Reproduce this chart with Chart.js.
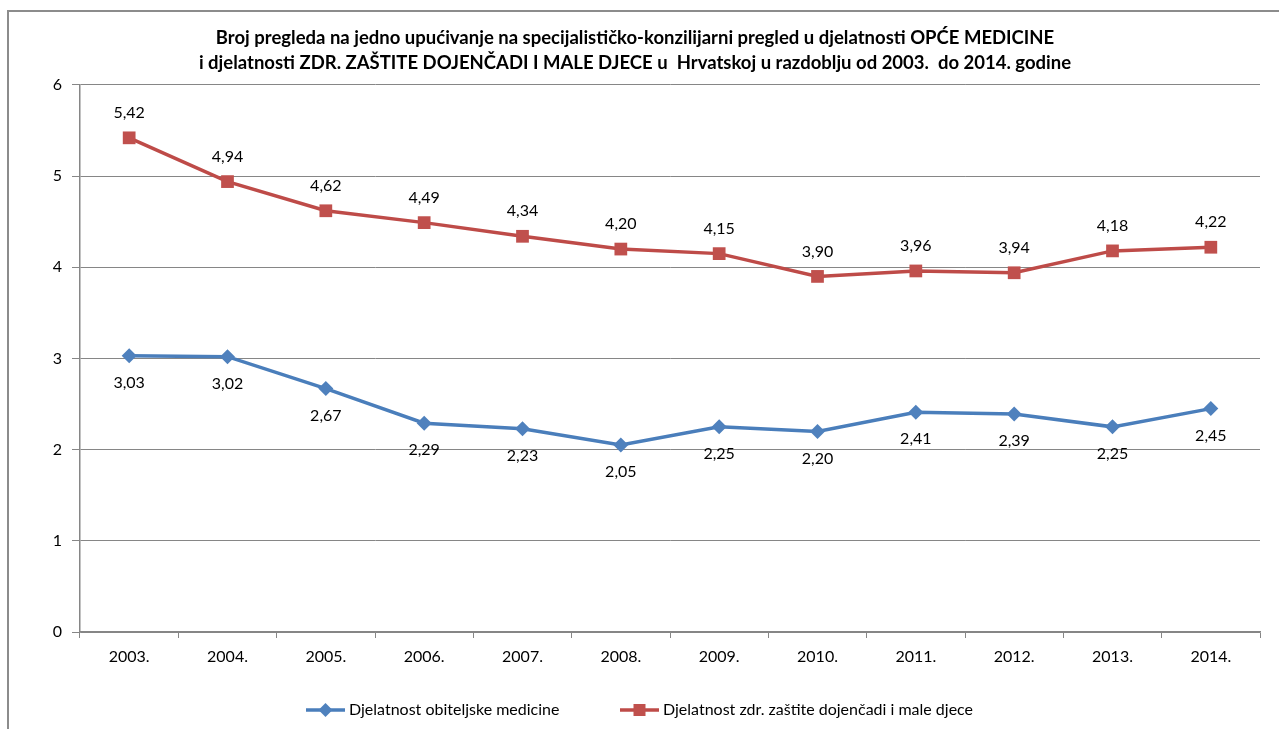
<!DOCTYPE html>
<html>
<head>
<meta charset="utf-8">
<script src="https://cdn.jsdelivr.net/npm/chart.js@4.4.0/dist/chart.umd.min.js"></script>
<style>
  html, body { margin:0; padding:0; background:#fff; overflow:hidden; }
  #frame { position:absolute; left:7px; top:10px; width:1300px; height:800px; border-left:2px solid #8c8c8c; border-top:2px solid #8c8c8c; }
  #wrap { position:absolute; left:0; top:0; width:1279px; height:729px; }
</style>
</head>
<body>
<div id="frame"></div>
<div id="wrap"><canvas id="c" width="1279" height="729"></canvas></div>
<script>
const categories = ['2003.','2004.','2005.','2006.','2007.','2008.','2009.','2010.','2011.','2012.','2013.','2014.'];
const obiteljska = [3.03, 3.02, 2.67, 2.29, 2.23, 2.05, 2.25, 2.20, 2.41, 2.39, 2.25, 2.45];
const dojencad = [5.42, 4.94, 4.62, 4.49, 4.34, 4.20, 4.15, 3.90, 3.96, 3.94, 4.18, 4.22];
const yTicks = [0, 1, 2, 3, 4, 5, 6];
const seriesNames = ['Djelatnost obiteljske medicine', 'Djelatnost zdr. zaštite dojenčadi i male djece'];
const titleLines = ['Broj pregleda na jedno upućivanje na specijalističko-konzilijarni pregled u djelatnosti OPĆE MEDICINE',
                    'i djelatnosti ZDR. ZAŠTITE DOJENČADI I MALE DJECE u  Hrvatskoj u razdoblju od 2003.  do 2014. godine'];

const BLUE = '#4A7EBB', BLUE_M = '#4F81BD';
const RED = '#BE4B48', RED_M = '#C0504D';
const FONT = 'Lato, "Open Sans", "DejaVu Sans", sans-serif';

function drawIcon(g, x, y, color, mcolor, shape) {
  g.save();
  g.strokeStyle = color; g.lineWidth = 3.5;
  g.beginPath(); g.moveTo(x, y); g.lineTo(x + 39, y); g.stroke();
  g.fillStyle = mcolor;
  const cx = x + 19.5;
  if (shape === 'diamond') {
    g.beginPath(); g.moveTo(cx, y - 7); g.lineTo(cx + 7, y); g.lineTo(cx, y + 7); g.lineTo(cx - 7, y); g.closePath(); g.fill();
  } else {
    g.fillRect(cx - 6, y - 6, 12, 12);
  }
  g.restore();
}

const labelPlugin = {
  id: 'valueLabels',
  afterDatasetsDraw(chart) {
    const ctx = chart.ctx;
    ctx.save();
    ctx.font = '16px ' + FONT;
    ctx.fillStyle = '#000';
    ctx.textAlign = 'center';
    ctx.textBaseline = 'middle';
    chart.data.datasets.forEach((ds, i) => {
      const meta = chart.getDatasetMeta(i);
      const off = ds.labelPos === 'above' ? -25 : 27;
      meta.data.forEach((pt, j) => {
        ctx.fillText(ds.data[j].toFixed(2).replace('.', ','), pt.x, pt.y + off);
      });
    });
    ctx.restore();
  }
};

const legendPlugin = {
  id: 'excelLegend',
  afterDraw(chart) {
    const ctx = chart.ctx;
    ctx.save();
    ctx.font = '16px ' + FONT;
    ctx.fillStyle = '#000';
    ctx.textBaseline = 'middle';
    ctx.textAlign = 'left';
    const y = 710, iconW = 39, tPad = 4;
    const starts = [306, 620];
    drawIcon(ctx, starts[0], y, BLUE, BLUE_M, 'diamond');
    ctx.fillText(seriesNames[0], starts[0] + iconW + tPad, y);
    drawIcon(ctx, starts[1], y, RED, RED_M, 'square');
    ctx.fillText(seriesNames[1], starts[1] + iconW + tPad, y);
    ctx.restore();
  }
};

new Chart(document.getElementById('c'), {
  type: 'line',
  data: {
    labels: categories,
    datasets: [
      { label: seriesNames[0], data: obiteljska, borderColor: BLUE, backgroundColor: BLUE_M, borderWidth: 3.5,
        pointStyle: 'rectRot', pointRadius: 7.5, pointHoverRadius: 7.5, pointBackgroundColor: BLUE_M, pointBorderWidth: 0,
        tension: 0, labelPos: 'below' },
      { label: seriesNames[1], data: dojencad, borderColor: RED, backgroundColor: RED_M, borderWidth: 3.5,
        pointStyle: 'rect', pointRadius: 9, pointHoverRadius: 9, pointBackgroundColor: RED_M, pointBorderWidth: 0,
        tension: 0, labelPos: 'above' }
    ]
  },
  options: {
    responsive: false,
    animation: false,
    layout: { padding: { left: 10, right: 19, top: 4, bottom: 65 } },
    plugins: {
      tooltip: { enabled: false },
      legend: { display: false },
      title: { display: true, text: titleLines, color: '#000',
        font: { family: FONT, size: 18.5, weight: 'bold', lineHeight: 1.35 }, padding: { top: 21.5, bottom: 9.5 } }
    },
    scales: {
      x: { offset: true,
        afterFit(scale) { scale.height = 32; },
        grid: { offset: true, drawOnChartArea: false, drawTicks: true, tickLength: 6, color: '#868686', tickColor: '#868686' },
        border: { color: '#868686', width: 1.5 },
        ticks: { color: '#000', font: { family: FONT, size: 16 }, padding: 9, maxRotation: 0, autoSkip: false } },
      y: { min: 0, max: 6,
        afterFit(scale) { scale.width = 70; },
        afterBuildTicks(scale) { scale.ticks = yTicks.map(v => ({ value: v })); },
        grid: { color: '#868686', tickLength: 8, tickColor: '#868686', lineWidth: 1 },
        border: { color: '#868686', width: 1.5 },
        ticks: { color: '#000', font: { family: FONT, size: 16 }, padding: 10 } }
    }
  },
  plugins: [labelPlugin, legendPlugin]
});
</script>
</body>
</html>
